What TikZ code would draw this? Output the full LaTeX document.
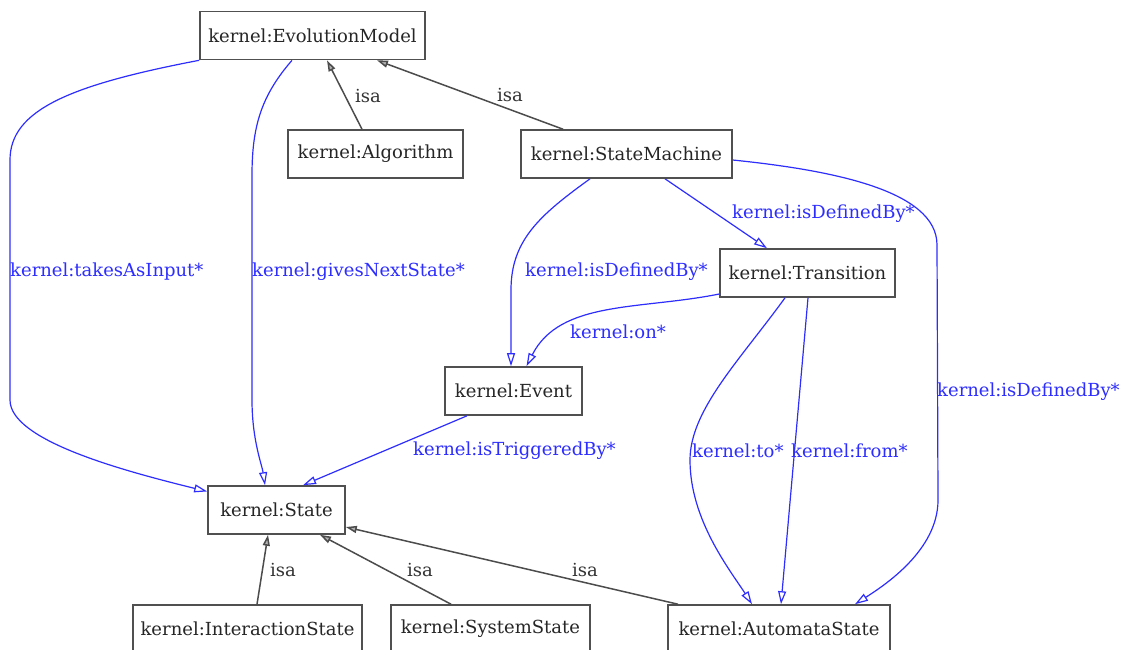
\documentclass[tikz,border=0pt]{standalone}
\usepackage{fontspec}
\setmainfont{DejaVu Serif}
\usetikzlibrary{arrows.meta}
\definecolor{eblue}{RGB}{45,45,255}
\definecolor{bgray}{RGB}{80,80,80}
\begin{document}
\begin{tikzpicture}[x=1pt,y=-1pt,
  cls/.style={draw=bgray,line width=1.6pt,fill=white,minimum height=48pt,inner sep=0pt,font=\fontsize{18}{21}\selectfont,text=black!85},
  rel/.style={draw=eblue,line width=1.2pt,-{Triangle[open,length=13pt,width=8pt]}},
  isa/.style={draw=black!70,line width=1.5pt,-{Triangle[open,length=11pt,width=7pt,fill=black!30]}},
  rlab/.style={text=eblue,font=\fontsize{18}{21}\selectfont,inner sep=0pt,anchor=west},
  glab/.style={text=black!80,font=\fontsize{18}{21}\selectfont,inner sep=0pt,anchor=west}]
\useasboundingbox (0,0) rectangle (1123,649);
% nodes
\node[cls,minimum width=225pt] (evo) at (312.5,35.5) {kernel:EvolutionModel};
\node[cls,minimum width=175pt] (alg) at (375.5,154) {kernel:Algorithm};
\node[cls,minimum width=211pt] (sm) at (626.5,154) {kernel:StateMachine};
\node[cls,minimum width=175pt] (tr) at (807.5,273) {kernel:Transition};
\node[cls,minimum width=137pt] (ev) at (513.5,391) {kernel:Event};
\node[cls,minimum width=137pt] (st) at (276.5,510) {kernel:State};
\node[cls,minimum width=229pt] (is) at (247.5,629) {kernel:InteractionState};
\node[cls,minimum width=199pt] (ss) at (490.5,629) {kernel:SystemState};
\node[cls,minimum width=222pt] (as) at (779,629) {kernel:AutomataState};
% blue relations
\draw[rel] (evo.south west) .. controls (70,85) and (10,110) .. (10,160) -- (10,400)
  .. controls (10,440) and (120,470) .. (st.165);
\draw[rel] ([xshift=-20.5pt]evo.south) .. controls (262,95) and (252,125) .. (252,175) -- (252,400)
  .. controls (252,440) and (262,465) .. ([xshift=-11.5pt]st.north);
\draw[rel] ([xshift=-36.5pt]sm.south) .. controls (540,215) and (511,240) .. (511,290) -- ([xshift=-2.5pt]ev.north);
\draw[rel] ([xshift=38.5pt]sm.south) -- ([xshift=-40.5pt]tr.north);
\draw[rel] (sm.east |- 0,160) .. controls (830,170) and (937,190) .. (937,245) -- (938,500)
  .. controls (938,550) and (885,585) .. ([xshift=76pt]as.north);
\draw[rel] (tr.west |- 0,294) .. controls (640,310) and (560,300) .. ([xshift=13pt]ev.north);
\draw[rel] ([xshift=-22.5pt]tr.south) .. controls (740,360) and (690,410) .. (690,460)
  .. controls (690,520) and (730,570) .. ([xshift=-27pt]as.north);
\draw[rel] ([xshift=0.5pt]tr.south) -- ([xshift=2pt]as.north);
\draw[rel] ([xshift=-46.5pt]ev.south) -- ([xshift=26.5pt]st.north);
% isa
\draw[isa] ([xshift=-13.5pt]alg.north) -- ([xshift=14.5pt]evo.south);
\draw[isa] ([xshift=-63.5pt]sm.north) -- ([xshift=64.5pt]evo.south);
\draw[isa] ([xshift=9.5pt]is.north) -- ([xshift=-8.5pt]st.south);
\draw[isa] ([xshift=-39.5pt]ss.north) -- ([xshift=43.5pt]st.south);
\draw[isa] ([xshift=-101pt]as.north) -- ([yshift=-17pt]st.east);
% labels
\node[rlab] (l1) at (10,272) {kernel:takesAsInput*};
\node[rlab] (l2) at (252,272) {kernel:givesNextState*};
\node[rlab] (l3) at (525,272) {kernel:isDefinedBy*};
\node[rlab] (l4) at (732,214) {kernel:isDefinedBy*};
\node[rlab] (l5) at (937,392) {kernel:isDefinedBy*};
\node[rlab] (l6) at (570,332) {kernel:on*};
\node[rlab] (l7) at (692,451) {kernel:to*};
\node[rlab] (l8) at (791,451) {kernel:from*};
\node[rlab] (l9) at (413,451) {kernel:isTriggeredBy*};
\node[glab] (i1) at (355,96) {isa};
\node[glab] (i2) at (497,95) {isa};
\node[glab] (i3) at (270,570) {isa};
\node[glab] (i4) at (407,570) {isa};
\node[glab] (i5) at (572,570) {isa};
\end{tikzpicture}
\end{document}
